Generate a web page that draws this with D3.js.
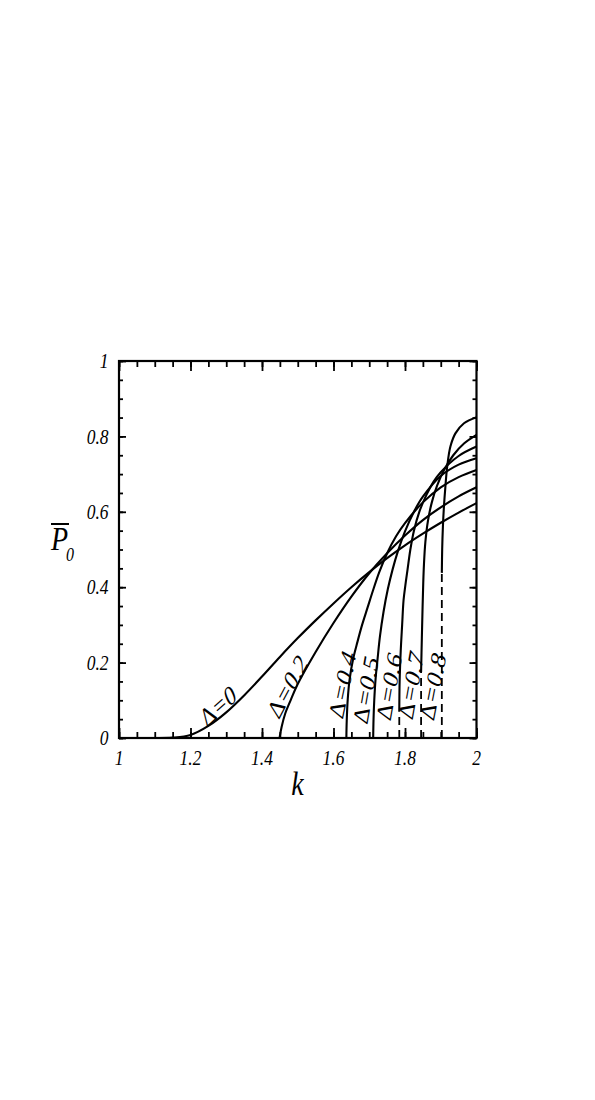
<!DOCTYPE html>
<html><head><meta charset="utf-8">
<script src="https://cdn.jsdelivr.net/npm/d3@7"></script>
<style>
body{margin:0;background:#fff}
svg{display:block}
text{font-family:"Liberation Serif","Times New Roman",serif;font-style:italic;fill:#000}
</style>
</head><body><div id="chart"></div>
<script>
// ---- data ----
const xTicks=[1,1.2,1.4,1.6,1.8,2];
const xTickLabels=["1","1.2","1.4","1.6","1.8","2"];
const yTicks=[0,0.2,0.4,0.6,0.8,1];
const yTickLabels=["0","0.2","0.4","0.6","0.8","1"];
const deltaLabels=["Δ=0","Δ=0.2","Δ=0.4","Δ=0.5","Δ=0.6","Δ=0.7","Δ=0.8"];

const kD0=[1.1,1.15,1.2,1.25,1.3,1.35,1.4,1.45,1.5,1.55,1.6,1.65,1.7,1.75,1.8,1.85,1.9,1.95,2.0];
const pD0=[0,0.001,0.008,0.032,0.068,0.113,0.163,0.215,0.265,0.312,0.357,0.4,0.44,0.477,0.511,0.542,0.571,0.598,0.623];

const kD2=[1.449,1.455,1.465,1.48,1.5,1.55,1.6,1.65,1.7,1.75,1.8,1.85,1.9,1.95,2.0];
const pD2=[0,0.03,0.065,0.1,0.143,0.228,0.305,0.375,0.437,0.49,0.537,0.578,0.612,0.641,0.665];

const kD4=[1.636,1.637,1.64,1.645,1.655,1.667,1.68,1.695,1.71,1.728,1.75,1.775,1.8,1.85,1.9,1.95,2.0];
const pD4=[0,0.045,0.105,0.155,0.21,0.255,0.3,0.345,0.39,0.44,0.49,0.535,0.57,0.625,0.665,0.692,0.711];

const kD5=[1.711,1.712,1.714,1.718,1.723,1.73,1.74,1.752,1.765,1.78,1.8,1.825,1.85,1.9,1.95,2.0];
const pD5=[0,0.05,0.1,0.16,0.207,0.27,0.335,0.395,0.446,0.495,0.548,0.6,0.64,0.695,0.725,0.742];

const kD6=[1.784,1.785,1.788,1.792,1.796,1.801,1.807,1.815,1.825,1.84,1.86,1.88,1.9,1.95,2.0];
const pD6=[0.07,0.15,0.23,0.3,0.366,0.405,0.446,0.5,0.55,0.6,0.645,0.68,0.705,0.748,0.773];

const kD7=[1.845,1.847,1.849,1.851,1.853,1.857,1.864,1.875,1.89,1.91,1.935,1.965,2.0];
const pD7=[0.175,0.26,0.34,0.41,0.46,0.52,0.575,0.625,0.67,0.712,0.75,0.781,0.804];

const kD8=[1.903,1.904,1.906,1.909,1.913,1.918,1.927,1.941,1.965,2.0];
const pD8=[0.438,0.5,0.56,0.615,0.667,0.72,0.773,0.808,0.835,0.851];

// vertical (dashed) jumps for Δ=0.6, 0.7, 0.8
const jumpK=[1.784,1.845,1.903];
const jumpP=[0.07,0.175,0.438];

// curve label anchors (data units) and rotation
const labelK=[1.277,1.471,1.624,1.690,1.755,1.816,1.877];
const labelP=[0.085,0.136,0.141,0.127,0.136,0.139,0.136];
const labelAngle=[-37,-57.5,-76,-78,-78,-78,-77];

// ---- drawing ----
const W=595,H=1100, SY=1.2;
const svg=d3.select("#chart").append("svg").attr("width",W).attr("height",H);
const x=d3.scaleLinear().domain([1,2]).range([119,476.5]);
const y=d3.scaleLinear().domain([0,1]).range([738,361]);

const minorX=d3.range(1,2.0001,0.05);
const minorY=d3.range(0,1.0001,0.05);

function styleAxis(g){
  g.select(".domain").remove();
  g.selectAll(".tick line").attr("stroke","#000").attr("stroke-width",1.8);
}
// bottom
svg.append("g").attr("transform",`translate(0,${y(0)})`).call(d3.axisBottom(x).tickValues(minorX).tickSize(-6).tickFormat("")).call(styleAxis);
svg.append("g").attr("transform",`translate(0,${y(0)})`).call(d3.axisBottom(x).tickValues(xTicks).tickSize(-10).tickFormat("")).call(styleAxis);
// top
svg.append("g").attr("transform",`translate(0,${y(1)})`).call(d3.axisTop(x).tickValues(minorX).tickSize(-6).tickFormat("")).call(styleAxis);
svg.append("g").attr("transform",`translate(0,${y(1)})`).call(d3.axisTop(x).tickValues(xTicks).tickSize(-10).tickFormat("")).call(styleAxis);
// left
svg.append("g").attr("transform",`translate(${x(1)},0)`).call(d3.axisLeft(y).tickValues(minorY).tickSize(-4).tickFormat("")).call(styleAxis);
svg.append("g").attr("transform",`translate(${x(1)},0)`).call(d3.axisLeft(y).tickValues(yTicks).tickSize(-7).tickFormat("")).call(styleAxis);
// right
svg.append("g").attr("transform",`translate(${x(2)},0)`).call(d3.axisRight(y).tickValues(minorY).tickSize(-4).tickFormat("")).call(styleAxis);
svg.append("g").attr("transform",`translate(${x(2)},0)`).call(d3.axisRight(y).tickValues(yTicks).tickSize(-7).tickFormat("")).call(styleAxis);

// tick labels
xTicks.forEach((v,i)=>{
  svg.append("g").attr("transform",`translate(${x(v)},765) scale(1,${SY})`)
    .append("text").attr("text-anchor","middle").attr("font-size",17.5).text(xTickLabels[i]);
});
yTicks.forEach((v,i)=>{
  svg.append("g").attr("transform",`translate(108.5,${y(v)}) scale(1,${SY})`)
    .append("text").attr("text-anchor","end").attr("dy","0.34em").attr("font-size",17.5).text(yTickLabels[i]);
});

// curves
const curves=[[kD0,pD0],[kD2,pD2],[kD4,pD4],[kD5,pD5],[kD6,pD6],[kD7,pD7],[kD8,pD8]];
const line=d3.line().x(d=>x(d[0])).y(d=>y(d[1])).curve(d3.curveCatmullRom.alpha(0.5));
curves.forEach(([ks,ps])=>{
  svg.append("path").datum(ks.map((k,i)=>[k,ps[i]]))
    .attr("d",line).attr("fill","none").attr("stroke","#000").attr("stroke-width",2.1);
});
const straight=d3.line().x(d=>x(d[0])).y(d=>y(d[1]));
jumpK.forEach((k,i)=>{
  svg.append("path").datum([[k,0],[k,jumpP[i]]]).attr("d",straight)
    .attr("fill","none").attr("stroke","#000").attr("stroke-width",1.8).attr("stroke-dasharray","8,5");
});

// frame
svg.append("rect").attr("x",x(1)).attr("y",y(1)).attr("width",x(2)-x(1)).attr("height",y(0)-y(1))
  .attr("fill","none").attr("stroke","#000").attr("stroke-width",2.2);

// curve labels (upright Greek Δ, italic remainder)
deltaLabels.forEach((t,i)=>{
  const txt=svg.append("g").attr("transform",`translate(${x(labelK[i])},${y(labelP[i])}) scale(1,${SY}) rotate(${labelAngle[i]})`)
    .append("text").attr("text-anchor","middle").attr("dy","0.35em").attr("font-size",22);
  txt.append("tspan").attr("font-style","normal").text(t.slice(0,1));
  txt.append("tspan").text(t.slice(1));
});

// axis titles
svg.append("g").attr("transform",`translate(297.5,795) scale(1,${SY})`)
  .append("text").attr("text-anchor","middle").attr("font-size",28).text("k");
const yt=svg.append("g").attr("transform",`translate(51,550) scale(1,${SY})`);
yt.append("text").attr("x",0).attr("y",0).attr("font-size",28).text("P");
yt.append("text").attr("x",15).attr("y",9).attr("font-size",16).text("0");
svg.append("line").attr("x1",51).attr("x2",69).attr("y1",524).attr("y2",524).attr("stroke","#000").attr("stroke-width",2);
</script>
</body></html>
